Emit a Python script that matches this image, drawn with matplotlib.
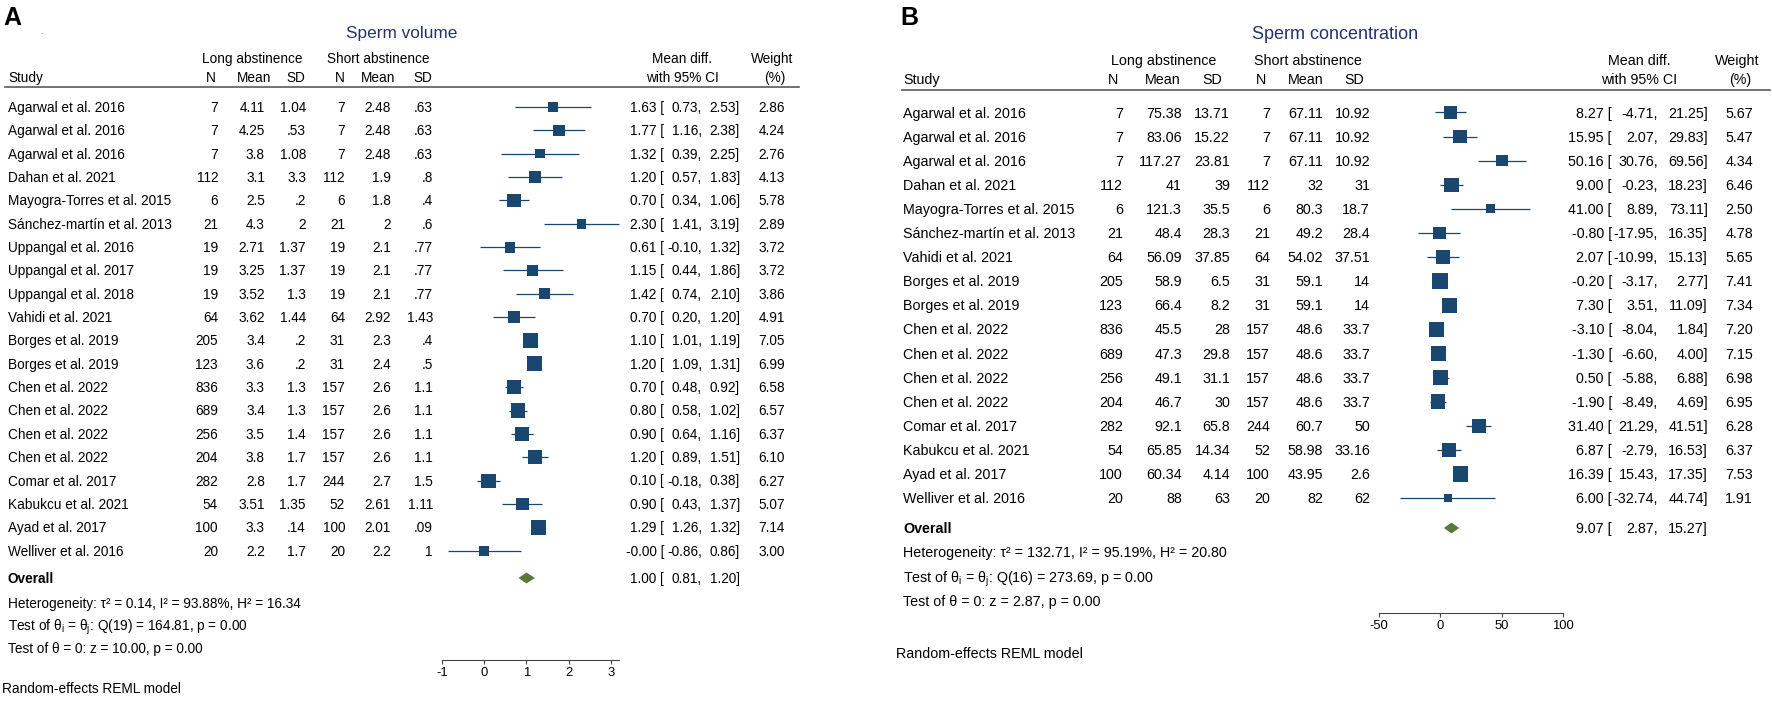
import numpy as np
import matplotlib
matplotlib.use("Agg")
from matplotlib import pyplot as plt

plt.rcParams['font.family'] = ['Liberation Sans', 'DejaVu Sans']
plt.rcParams['mathtext.fontset'] = 'custom'
plt.rcParams['mathtext.rm'] = 'Liberation Sans'
plt.rcParams['mathtext.it'] = 'Liberation Sans:italic'
plt.rcParams['axes.unicode_minus'] = False

# ---------------------------------------------------------------- panel A data
studies_a = ["Agarwal et al. 2016", "Agarwal et al. 2016", "Agarwal et al. 2016",
             "Dahan et al. 2021", "Mayogra-Torres et al. 2015",
             "Sánchez-martín et al. 2013", "Uppangal et al. 2016",
             "Uppangal et al. 2017", "Uppangal et al. 2018", "Vahidi et al. 2021",
             "Borges et al. 2019", "Borges et al. 2019", "Chen et al. 2022",
             "Chen et al. 2022", "Chen et al. 2022", "Chen et al. 2022",
             "Comar et al. 2017", "Kabukcu et al. 2021", "Ayad et al. 2017",
             "Welliver et al. 2016"]
n_long_a = [7, 7, 7, 112, 6, 21, 19, 19, 19, 64, 205, 123, 836, 689, 256, 204, 282, 54, 100, 20]
mean_long_a = [4.11, 4.25, 3.8, 3.1, 2.5, 4.3, 2.71, 3.25, 3.52, 3.62, 3.4, 3.6, 3.3, 3.4,
               3.5, 3.8, 2.8, 3.51, 3.3, 2.2]
sd_long_a = [1.04, .53, 1.08, 3.3, .2, 2, 1.37, 1.37, 1.3, 1.44, .2, .2, 1.3, 1.3, 1.4, 1.7,
             1.7, 1.35, .14, 1.7]
n_short_a = [7, 7, 7, 112, 6, 21, 19, 19, 19, 64, 31, 31, 157, 157, 157, 157, 244, 52, 100, 20]
mean_short_a = [2.48, 2.48, 2.48, 1.9, 1.8, 2, 2.1, 2.1, 2.1, 2.92, 2.3, 2.4, 2.6, 2.6, 2.6,
                2.6, 2.7, 2.61, 2.01, 2.2]
sd_short_a = [.63, .63, .63, .8, .4, .6, .77, .77, .77, 1.43, .4, .5, 1.1, 1.1, 1.1, 1.1, 1.5,
              1.11, .09, 1]
md_a = [1.63, 1.77, 1.32, 1.20, 0.70, 2.30, 0.61, 1.15, 1.42, 0.70, 1.10, 1.20, 0.70, 0.80,
        0.90, 1.20, 0.10, 0.90, 1.29, -0.0]
lo_a = [0.73, 1.16, 0.39, 0.57, 0.34, 1.41, -0.10, 0.44, 0.74, 0.20, 1.01, 1.09, 0.48, 0.58,
        0.64, 0.89, -0.18, 0.43, 1.26, -0.86]
hi_a = [2.53, 2.38, 2.25, 1.83, 1.06, 3.19, 1.32, 1.86, 2.10, 1.20, 1.19, 1.31, 0.92, 1.02,
        1.16, 1.51, 0.38, 1.37, 1.32, 0.86]
w_a = [2.86, 4.24, 2.76, 4.13, 5.78, 2.89, 3.72, 3.72, 3.86, 4.91, 7.05, 6.99, 6.58, 6.57,
       6.37, 6.10, 6.27, 5.07, 7.14, 3.00]
overall_a = [1.00, 0.81, 1.20]
ticks_a = [-1, 0, 1, 2, 3]
stats_a = ["Heterogeneity: τ² = 0.14, I² = 93.88%, H² = 16.34",
           r"Test of θ$_\mathrm{i}$ = θ$_\mathrm{j}$: Q(19) = 164.81, p = 0.00",
           "Test of θ = 0: z = 10.00, p = 0.00"]

# ---------------------------------------------------------------- panel B data
studies_b = ["Agarwal et al. 2016", "Agarwal et al. 2016", "Agarwal et al. 2016",
             "Dahan et al. 2021", "Mayogra-Torres et al. 2015",
             "Sánchez-martín et al. 2013", "Vahidi et al. 2021", "Borges et al. 2019",
             "Borges et al. 2019", "Chen et al. 2022", "Chen et al. 2022",
             "Chen et al. 2022", "Chen et al. 2022", "Comar et al. 2017",
             "Kabukcu et al. 2021", "Ayad et al. 2017", "Welliver et al. 2016"]
n_long_b = [7, 7, 7, 112, 6, 21, 64, 205, 123, 836, 689, 256, 204, 282, 54, 100, 20]
mean_long_b = [75.38, 83.06, 117.27, 41, 121.3, 48.4, 56.09, 58.9, 66.4, 45.5, 47.3, 49.1,
               46.7, 92.1, 65.85, 60.34, 88]
sd_long_b = [13.71, 15.22, 23.81, 39, 35.5, 28.3, 37.85, 6.5, 8.2, 28, 29.8, 31.1, 30, 65.8,
             14.34, 4.14, 63]
n_short_b = [7, 7, 7, 112, 6, 21, 64, 31, 31, 157, 157, 157, 157, 244, 52, 100, 20]
mean_short_b = [67.11, 67.11, 67.11, 32, 80.3, 49.2, 54.02, 59.1, 59.1, 48.6, 48.6, 48.6,
                48.6, 60.7, 58.98, 43.95, 82]
sd_short_b = [10.92, 10.92, 10.92, 31, 18.7, 28.4, 37.51, 14, 14, 33.7, 33.7, 33.7, 33.7, 50,
              33.16, 2.6, 62]
md_b = [8.27, 15.95, 50.16, 9.00, 41.00, -0.80, 2.07, -0.20, 7.30, -3.10, -1.30, 0.50, -1.90,
        31.40, 6.87, 16.39, 6.00]
lo_b = [-4.71, 2.07, 30.76, -0.23, 8.89, -17.95, -10.99, -3.17, 3.51, -8.04, -6.60, -5.88,
        -8.49, 21.29, -2.79, 15.43, -32.74]
hi_b = [21.25, 29.83, 69.56, 18.23, 73.11, 16.35, 15.13, 2.77, 11.09, 1.84, 4.00, 6.88, 4.69,
        41.51, 16.53, 17.35, 44.74]
w_b = [5.67, 5.47, 4.34, 6.46, 2.50, 4.78, 5.65, 7.41, 7.34, 7.20, 7.15, 6.98, 6.95, 6.28,
       6.37, 7.53, 1.91]
overall_b = [9.07, 2.87, 15.27]
ticks_b = [-50, 0, 50, 100]
stats_b = ["Heterogeneity: τ² = 132.71, I² = 95.19%, H² = 20.80",
           r"Test of θ$_\mathrm{i}$ = θ$_\mathrm{j}$: Q(16) = 273.69, p = 0.00",
           "Test of θ = 0: z = 2.87, p = 0.00"]

# ---------------------------------------------------------------- figure
W, H = 1772, 704
fig = plt.figure(figsize=(W / 100, H / 100), dpi=100)
fig.patch.set_facecolor('white')

box_col = '#1a476f'
dia_col = '#587a36'
title_col = '#24346a'
rule_col = '#5a5a5a'


def fx(x):
    return x / W


def fy(y):
    return 1 - y / H


def put(x, y, s, size, ha='left', **kw):
    # y is the visual middle of the digits / capitals, in pixels from top
    fig.text(fx(x), fy(y + 0.36 * size * 100 / 72), s, fontsize=size, ha=ha,
             va='baseline', **kw)


def fmt(v):
    s = f"{v:g}"
    if s.startswith("0."):
        s = s[1:]
    return s


def panel(lay, studies, cols, md, lo, hi, w, overall, ticks, stats):
    fs = lay['fs']
    rows = lay['row0'] + lay['step'] * np.arange(len(studies))

    put(lay['letter'][0], lay['letter'][1], lay['name'], 18, weight='bold')
    put(lay['title'][0], lay['title'][1], lay['title_text'], lay['tfs'], ha='center',
        color=title_col)

    # header
    y1, y2 = lay['hdr']
    put(lay['grp'][0], y1, "Long abstinence", fs, ha='center')
    put(lay['grp'][1], y1, "Short abstinence", fs, ha='center')
    put(lay['study_x'], y2, "Study", fs)
    for lab, cx in zip(["N", "Mean", "SD", "N", "Mean", "SD"], lay['hcols']):
        put(cx, y2, lab, fs, ha='center')
    put(lay['mdc'], y1, "Mean diff.", fs, ha='center')
    put(lay['mdc'], y2, "with 95% CI", fs, ha='center')
    put(lay['wc'][0], y1, "Weight", fs, ha='center')
    put(lay['wc'][1], y2, "(%)", fs, ha='center')
    fig.add_artist(plt.Line2D([fx(lay['rule'][0]), fx(lay['rule'][1])],
                              [fy(lay['rule_y'])] * 2, color=rule_col, lw=1.2))

    # study rows
    for i, y in enumerate(rows):
        put(lay['study_x'], y, studies[i], fs)
        for j, col in enumerate(cols):
            put(lay['vcols'][j], y, str(col[i]) if j in (0, 3) else fmt(col[i]), fs,
                ha='right')
        put(lay['ci'][0], y, f"{md[i]:.2f} [", fs, ha='right')
        put(lay['ci'][1], y, f"{lo[i]:.2f},", fs, ha='right')
        put(lay['ci'][2], y, f"{hi[i]:.2f}]", fs, ha='right')
        put(lay['ci'][3], y, f"{w[i]:.2f}", fs, ha='right')

    yo = lay['overall_y']
    put(lay['study_x'], yo, "Overall", fs, weight='bold')
    put(lay['ci'][0], yo, f"{overall[0]:.2f} [", fs, ha='right')
    put(lay['ci'][1], yo, f"{overall[1]:.2f},", fs, ha='right')
    put(lay['ci'][2], yo, f"{overall[2]:.2f}]", fs, ha='right')
    for s, y in zip(stats, lay['stats_y']):
        put(lay['study_x'], y, s, fs)
    put(lay['reml'][0], lay['reml'][1], "Random-effects REML model", fs)

    # forest
    x0, x1 = lay['fx']
    ytop, yax = lay['fy']
    ax = fig.add_axes([fx(x0), fy(yax), fx(x1) - fx(x0), (yax - ytop) / H])
    ax.set_xlim(lay['xlim'])
    ax.set_ylim(yax, ytop)
    ax.patch.set_alpha(0)
    for sp in ['left', 'right', 'top']:
        ax.spines[sp].set_visible(False)
    ax.spines['bottom'].set_color('#444444')
    ax.spines['bottom'].set_linewidth(0.8)
    ax.set_yticks([])
    ax.set_xticks(ticks)
    ax.set_xticklabels([str(t) for t in ticks])
    ax.tick_params(axis='x', direction='out', length=3, width=0.8, color='#444444',
                   labelsize=9.4, pad=2)

    ax.hlines(rows, lo, hi, color=box_col, lw=0.9, clip_on=False)
    side_pt = 5.65 * np.sqrt(np.array(w)) * 0.72
    ax.scatter(md, rows, marker='s', s=side_pt ** 2, color=box_col, linewidths=0,
               zorder=3, clip_on=False)
    hh = 5.5
    ax.fill([overall[1], overall[0], overall[2], overall[0]],
            [yo, yo - hh, yo, yo + hh], color=dia_col, lw=0, clip_on=False)


lay_a = dict(name="A", letter=(3, 16), title_text="Sperm volume", title=(402, 32), tfs=12.4,
             fs=9.8, hdr=(58, 77), grp=(252, 378), study_x=8,
             hcols=[211, 254, 296, 340, 378, 423],
             vcols=[218, 265, 306, 345, 391, 433],
             mdc=682, wc=(772, 775), ci=(664, 702, 740, 785),
             rule=(5, 799), rule_y=87, row0=107, step=23.35,
             overall_y=578, stats_y=[603, 626, 648], reml=(2, 688),
             fx=(442, 619), fy=(88, 660), xlim=(-1, 3.19))

lay_b = dict(name="B", letter=(900, 16), title_text="Sperm concentration", title=(1335, 33),
             tfs=12.95, fs=10.25, hdr=(60, 79), grp=(1164, 1308), study_x=903,
             hcols=[1113, 1163, 1212, 1261, 1306, 1354],
             vcols=[1123, 1182, 1230, 1270, 1323, 1370],
             mdc=1639, wc=(1737, 1740), ci=(1612, 1658, 1708, 1753),
             rule=(902, 1770), rule_y=90, row0=112.4, step=24.1,
             overall_y=528, stats_y=[552, 577, 601], reml=(896, 653),
             fx=(1379, 1563), fy=(91, 613), xlim=(-50, 100))

panel(lay_a, studies_a,
      [n_long_a, mean_long_a, sd_long_a, n_short_a, mean_short_a, sd_short_a],
      md_a, lo_a, hi_a, w_a, overall_a, ticks_a, stats_a)
panel(lay_b, studies_b,
      [n_long_b, mean_long_b, sd_long_b, n_short_b, mean_short_b, sd_short_b],
      md_b, lo_b, hi_b, w_b, overall_b, ticks_b, stats_b)

put(41, 33, "-", 5, color='#888888')

fig.savefig("out.png", dpi=100, facecolor='white')
